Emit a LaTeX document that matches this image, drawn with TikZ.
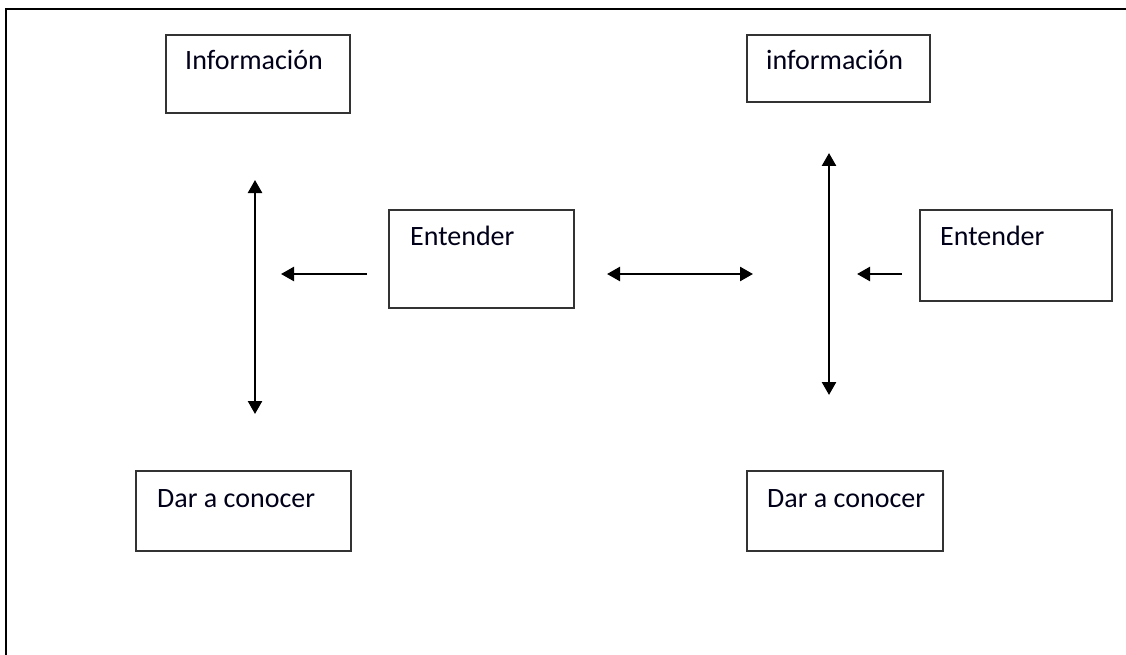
\documentclass[tikz,border=0pt]{standalone}
\usepackage{fontspec}
\setmainfont{Carlito}
\usetikzlibrary{arrows.meta,calc}
\definecolor{edge}{HTML}{333333}
\begin{document}
\begin{tikzpicture}[x=1pt,y=-1pt,
  box/.style={draw=edge,line width=1.6pt,rectangle,inner sep=0pt,anchor=north west},
  txt/.style={inner sep=0pt,anchor=base west,font=\fontsize{28}{30}\selectfont,text=black!90!blue},
  link/.style={line width=2.5pt,-{Triangle[length=13pt,width=14pt]}},
  bilink/.style={line width=2.5pt,{Triangle[length=13pt,width=14pt]}-{Triangle[length=13pt,width=14pt]}}]
\useasboundingbox (0,0) rectangle (1126,655);
% outer frame (left and top sides)
\draw[line width=2.2pt] (6,655) -- (6,9) -- (1126,9);

% boxes
\node[box,minimum width=184,minimum height=78] (infoA) at (165,34) {};
\node[box,minimum width=185,minimum height=98] (entA) at (388,209) {};
\node[box,minimum width=215,minimum height=80] (darA) at (135,470) {};
\node[box,minimum width=183,minimum height=67] (infoB) at (746,34) {};
\node[box,minimum width=192,minimum height=91] (entB) at (919,209) {};
\node[box,minimum width=196,minimum height=80] (darB) at (746,470) {};

% box texts
\node[txt] (infoAt) at ($(infoA.north west)+(20,36)$) {Información};
\node[txt] (entAt) at ($(entA.north west)+(22,36)$) {Entender};
\node[txt] (darAt) at ($(darA.north west)+(22,37)$) {Dar a conocer};
\node[txt] (infoBt) at ($(infoB.north west)+(20,36)$) {información};
\node[txt] (entBt) at ($(entB.north west)+(21,36)$) {Entender};
\node[txt] (darBt) at ($(darB.north west)+(21,37)$) {Dar a conocer};

% arrow end points
\coordinate (lvTop) at (255,180);
\coordinate (lvBot) at (255,414);
\coordinate (lhS) at (367,274);
\coordinate (lhE) at (281,274);
\coordinate (mhL) at (607,274);
\coordinate (mhR) at (753,274);
\coordinate (rvTop) at (829,153);
\coordinate (rvBot) at (829,395);
\coordinate (rhS) at (902,274);
\coordinate (rhE) at (857,274);

% connectors
\draw[bilink] (lvTop) -- (lvBot);
\draw[link] (lhS) -- (lhE);
\draw[bilink] (mhL) -- (mhR);
\draw[bilink] (rvTop) -- (rvBot);
\draw[link] (rhS) -- (rhE);
\end{tikzpicture}
\end{document}
